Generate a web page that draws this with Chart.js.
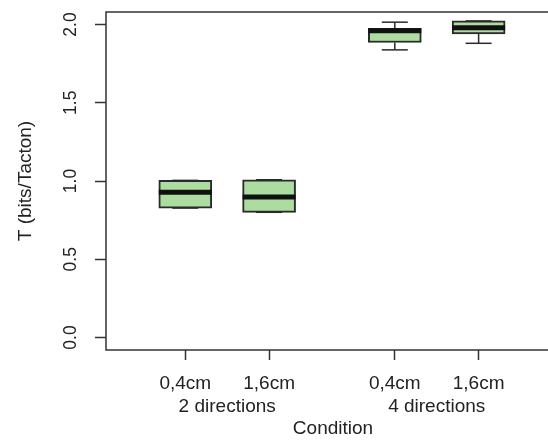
<!DOCTYPE html>
<html><head><meta charset="utf-8">
<script src="https://cdn.jsdelivr.net/npm/chart.js@4.4.1/dist/chart.umd.min.js"></script>
<style>
html,body{margin:0;padding:0;background:#fff;overflow:hidden;width:548px;height:442px}
#wrap{position:relative;width:560px;height:442px}
</style></head>
<body><div id="wrap"><canvas id="c" width="560" height="442"></canvas></div>
<script>
// ---- data ----
const sizeLabels  = ["0,4cm", "1,6cm", "0,4cm", "1,6cm"];
const groupLabels = ["2 directions", "4 directions"];
const groupOf     = [0, 0, 1, 1];
const positions   = [1, 2, 3.5, 4.5];
const whiskerLow  = [0.827, 0.800, 1.838, 1.880];
const q1          = [0.827, 0.800, 1.885, 1.940];
const median      = [0.928, 0.897, 1.960, 1.980];
const q3          = [1.004, 1.008, 1.975, 2.023];
const whiskerHigh = [1.004, 1.008, 2.015, 2.023];
const yTicks      = [0, 0.5, 1.0, 1.5, 2.0];
const xTitle = "Condition";
const yTitle = "T (bits/Tacton)";

const FONT = '"Liberation Sans", Arial, Helvetica, sans-serif';
const INK = '#222';

const whiskerData = positions.flatMap((x, i) => [
  {x, y: q3[i]}, {x, y: whiskerHigh[i]}, {x, y: null},
  {x, y: q1[i]}, {x, y: whiskerLow[i]}, {x, y: null}
]);
const capData = positions.flatMap((x, i) => [{x, y: whiskerHigh[i]}, {x, y: whiskerLow[i]}]);

const overlay = {
  id: 'overlay',
  afterDraw(chart) {
    const {ctx, chartArea: a, scales: {x, y}} = chart;
    ctx.save();
    // frame
    ctx.strokeStyle = '#333';
    ctx.lineWidth = 1.5;
    ctx.strokeRect(a.left, a.top, a.right - a.left, a.bottom - a.top);
    // y tick labels (rotated, as in R)
    ctx.fillStyle = INK;
    ctx.textAlign = 'center';
    ctx.textBaseline = 'middle';
    ctx.font = '17.5px ' + FONT;
    yTicks.forEach(v => {
      ctx.save();
      ctx.translate(71, y.getPixelForValue(v));
      ctx.rotate(-Math.PI / 2);
      ctx.fillText(v.toFixed(1), 0, 0);
      ctx.restore();
    });
    // y title
    ctx.font = '19px ' + FONT;
    ctx.save();
    ctx.translate(26, (a.top + a.bottom) / 2);
    ctx.rotate(-Math.PI / 2);
    ctx.fillText(yTitle, 0, 0);
    ctx.restore();
    // group labels
    ctx.font = '19px ' + FONT;
    groupLabels.forEach((g, gi) => {
      const xs = positions.filter((p, i) => groupOf[i] === gi);
      const mid = xs.reduce((s, v) => s + v, 0) / xs.length;
      ctx.fillText(g, x.getPixelForValue(mid), 407);
    });
    ctx.restore();
  }
};

new Chart(document.getElementById('c'), {
  type: 'bar',
  data: {
    datasets: [
      {
        type: 'bar',
        data: positions.map((x, i) => ({x, y: [q1[i], q3[i]]})),
        backgroundColor: '#acdca0',
        borderColor: '#2a2a2a',
        borderWidth: 2,
        borderSkipped: false,
        barThickness: 53,
        order: 3
      },
      {
        type: 'line',
        data: whiskerData,
        borderColor: '#2a2a2a',
        borderWidth: 1.5,
        pointRadius: 0,
        spanGaps: false,
        fill: false,
        order: 2
      },
      {
        type: 'line',
        data: capData,
        showLine: false,
        pointStyle: 'line',
        pointRadius: 13,
        pointBorderWidth: 1.5,
        pointBorderColor: '#2a2a2a',
        order: 1
      },
      {
        type: 'line',
        data: positions.map((x, i) => ({x, y: median[i]})),
        showLine: false,
        pointStyle: 'line',
        pointRadius: 26.5,
        pointBorderWidth: 5,
        pointBorderColor: '#111',
        order: 0
      }
    ]
  },
  options: {
    responsive: false,
    devicePixelRatio: 1,
    animation: false,
    events: [],
    layout: {autoPadding: false, padding: {top: 12, left: 0, right: 0, bottom: 0}},
    plugins: {legend: {display: false}, tooltip: {enabled: false}},
    scales: {
      x: {
        type: 'linear',
        min: 0.054,
        max: 5.471,
        offset: false,
        afterFit(s) { s.height = 92; },
        afterBuildTicks(s) { s.ticks = positions.map(v => ({value: v})); },
        border: {display: false},
        grid: {display: true, offset: false, drawOnChartArea: false, drawTicks: true, tickLength: 10, tickColor: '#333', tickWidth: 1.5},
        ticks: {
          autoSkip: false, maxRotation: 0, minRotation: 0, padding: 12,
          color: INK, font: {family: FONT, size: 19},
          callback: v => sizeLabels[positions.indexOf(v)]
        },
        title: {display: true, text: xTitle, color: INK, font: {family: FONT, size: 19}, padding: {top: 0, bottom: 2}}
      },
      y: {
        type: 'linear',
        min: -0.08,
        max: 2.08,
        afterFit(s) { s.width = 106; },
        afterBuildTicks(s) { s.ticks = yTicks.map(v => ({value: v})); },
        border: {display: false},
        grid: {display: true, offset: false, drawOnChartArea: false, drawTicks: true, tickLength: 11, tickColor: '#333', tickWidth: 1.5},
        ticks: {display: false}
      }
    }
  },
  plugins: [overlay]
});
</script>
</body></html>
